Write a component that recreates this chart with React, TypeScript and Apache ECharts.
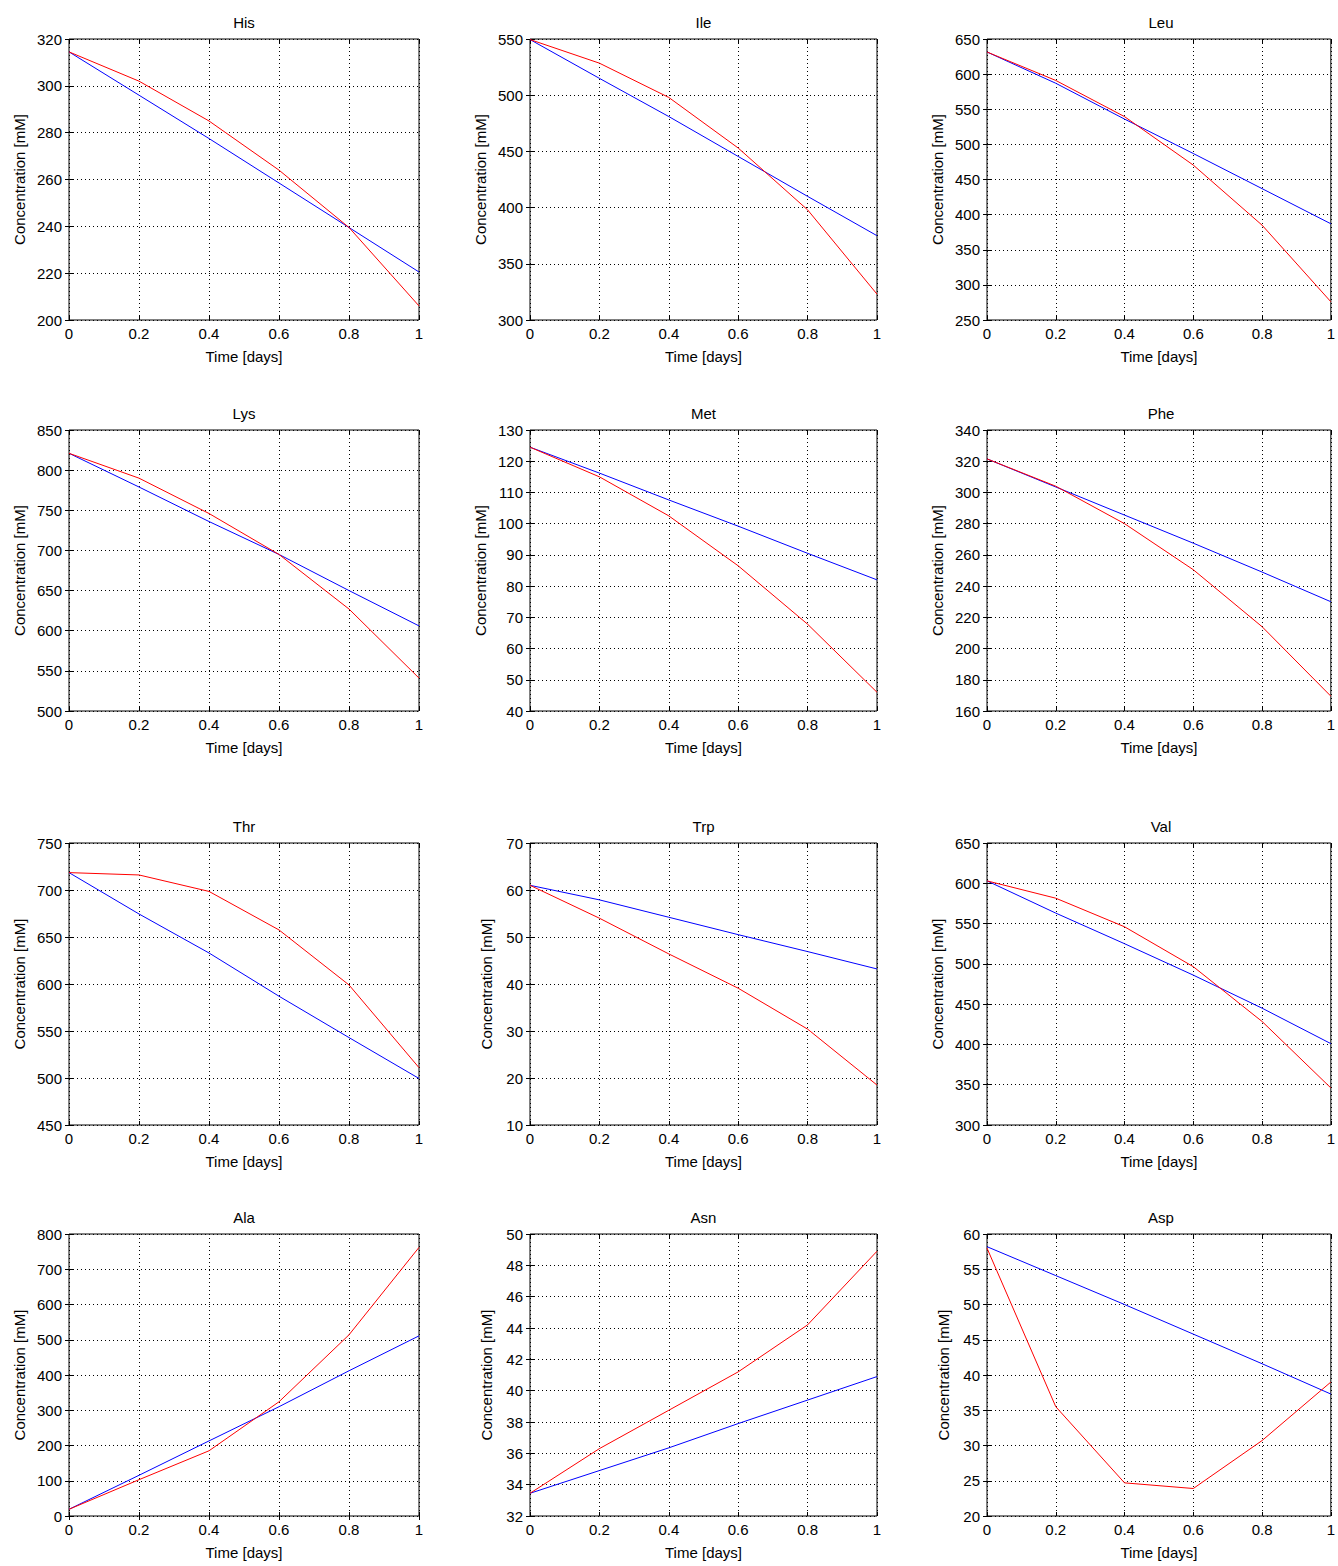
import React, { useEffect, useRef } from "react";
import * as echarts from "echarts";

const TIME = [0, 0.2, 0.4, 0.6, 0.8, 1];

const HIS_RED = [314.5, 302, 285, 264, 239.5, 206];
const HIS_BLUE = [314.5, 296, 277.5, 258.5, 239.5, 220.5];
const ILE_RED = [549.5, 528.5, 498, 453, 398, 323];
const ILE_BLUE = [549.5, 515, 481, 445.5, 410, 375];
const LEU_RED = [631.5, 591, 539.5, 470.5, 385, 276];
const LEU_BLUE = [631.5, 587, 536, 487, 437, 387];
const LYS_RED = [821, 790, 746, 695, 627, 541];
const LYS_BLUE = [821, 779, 736, 695, 650, 606];
const MET_RED = [124.5, 115, 102.5, 86.5, 67.8, 46];
const MET_BLUE = [124.5, 116.2, 107.6, 99.2, 90.5, 82];
const PHE_RED = [321.5, 304, 280, 250.5, 214, 169.5];
const PHE_BLUE = [321.5, 303.5, 285.5, 267.5, 249, 230];
const THR_RED = [718.5, 716, 698.5, 657.5, 599, 511];
const THR_BLUE = [718.5, 674.5, 633, 587, 543, 499.5];
const TRP_RED = [61, 54, 46.4, 39.1, 30.4, 18.5];
const TRP_BLUE = [61, 57.9, 54.2, 50.5, 46.9, 43.2];
const VAL_RED = [603, 581.5, 546, 496.5, 428.5, 346];
const VAL_BLUE = [603, 563, 525, 486, 445, 401];
const ALA_RED = [19, 103, 185, 324, 514, 762];
const ALA_BLUE = [19, 115.5, 213, 310, 412, 511];
const ASN_RED = [33.45, 36.3, 38.75, 41.2, 44.2, 48.9];
const ASN_BLUE = [33.45, 34.9, 36.35, 37.9, 39.4, 40.9];
const ASP_RED = [58, 35.5, 24.7, 23.9, 30.7, 39];
const ASP_BLUE = [58.2, 54.1, 50, 45.8, 41.6, 37.3];

const NAMES = ["His", "Ile", "Leu", "Lys", "Met", "Phe", "Thr", "Trp", "Val", "Ala", "Asn", "Asp"];
const RED = [HIS_RED, ILE_RED, LEU_RED, LYS_RED, MET_RED, PHE_RED, THR_RED, TRP_RED, VAL_RED, ALA_RED, ASN_RED, ASP_RED];
const BLUE = [HIS_BLUE, ILE_BLUE, LEU_BLUE, LYS_BLUE, MET_BLUE, PHE_BLUE, THR_BLUE, TRP_BLUE, VAL_BLUE, ALA_BLUE, ASN_BLUE, ASP_BLUE];
const Y_MIN = [200, 300, 250, 500, 40, 160, 450, 10, 300, 0, 32, 20];
const Y_MAX = [320, 550, 650, 850, 130, 340, 750, 70, 650, 800, 50, 60];
const Y_STEP = [20, 50, 50, 50, 10, 20, 50, 10, 50, 100, 2, 5];

const X_TITLE = "Time [days]";
const Y_TITLE = "Concentration [mM]";

// layout (pixels)
const COL_LEFT = [69, 530, 987];
const COL_WIDTH = [350, 347, 348];
const ROW_TOP = [39, 430, 843, 1234];
const ROW_HEIGHT = [281, 281, 282, 282];

const FONT = '"Liberation Sans", Arial, Helvetica, sans-serif';
const FS = 15;

export default function App() {
  const ref = useRef<HTMLDivElement>(null);
  useEffect(() => {
    if (!ref.current) return;
    const chart = echarts.init(ref.current, undefined, { renderer: "svg" });
    const grid: any[] = [];
    const xAxis: any[] = [];
    const yAxis: any[] = [];
    const series: any[] = [];
    const graphic: any[] = [];
    NAMES.forEach((name, i) => {
      const r = Math.floor(i / 3);
      const c = i % 3;
      const left = COL_LEFT[c];
      const top = ROW_TOP[r];
      const width = COL_WIDTH[c];
      const height = ROW_HEIGHT[r];
      grid.push({
        left,
        top,
        width,
        height,
        show: true,
        borderColor: "#000",
        borderWidth: 1,
        backgroundColor: "#fff",
      });
      const lblLen = String(Y_MAX[i]).length;
      const tick = { show: true, inside: true, length: 4, lineStyle: { color: "#000", width: 1 } };
      const split = { show: true, lineStyle: { color: "#000", width: 1, type: [1, 3] } };
      xAxis.push({
        type: "value",
        gridIndex: i,
        min: 0,
        max: 1,
        interval: 0.2,
        position: "bottom",
        axisLine: { show: false },
        axisTick: tick,
        splitLine: split,
        axisLabel: { color: "#000", fontFamily: FONT, fontSize: FS, margin: 6 },
        name: X_TITLE,
        nameLocation: "middle",
        nameGap: 29,
        nameTextStyle: { color: "#000", fontFamily: FONT, fontSize: FS },
      });
      xAxis.push({
        type: "value",
        gridIndex: i,
        min: 0,
        max: 1,
        interval: 0.2,
        position: "top",
        axisLine: { show: false },
        axisTick: tick,
        splitLine: { show: false },
        axisLabel: { show: false },
      });
      yAxis.push({
        type: "value",
        gridIndex: i,
        min: Y_MIN[i],
        max: Y_MAX[i],
        interval: Y_STEP[i],
        position: "left",
        axisLine: { show: false },
        axisTick: tick,
        splitLine: split,
        axisLabel: { color: "#000", fontFamily: FONT, fontSize: FS, margin: 7 },
        name: Y_TITLE,
        nameLocation: "middle",
        nameGap: lblLen >= 3 ? 42 : 36,
        nameTextStyle: { color: "#000", fontFamily: FONT, fontSize: FS },
      });
      yAxis.push({
        type: "value",
        gridIndex: i,
        min: Y_MIN[i],
        max: Y_MAX[i],
        interval: Y_STEP[i],
        position: "right",
        axisLine: { show: false },
        axisTick: tick,
        splitLine: { show: false },
        axisLabel: { show: false },
      });
      const mk = (vals: number[], color: string) => ({
        type: "line",
        xAxisIndex: 2 * i,
        yAxisIndex: 2 * i,
        data: TIME.map((t, k) => [t, vals[k]]),
        showSymbol: false,
        symbol: "none",
        lineStyle: { color, width: 1 },
        itemStyle: { color },
        z: 3,
      });
      series.push(mk(BLUE[i], "#0000ff"));
      series.push(mk(RED[i], "#ff0000"));
      graphic.push({
        type: "text",
        x: left + width / 2,
        y: top - 17,
        style: {
          text: name,
          font: `${FS}px ${FONT}`,
          fill: "#000",
          align: "center",
          verticalAlign: "middle",
        },
      });
    });
    chart.setOption({
      animation: false,
      backgroundColor: "#fff",
      grid,
      xAxis,
      yAxis,
      series,
      graphic,
    });
    return () => chart.dispose();
  }, []);
  return (
    <div
      ref={ref}
      style={{ position: "absolute", left: 0, top: 0, width: 1338, height: 1566 }}
    />
  );
}
